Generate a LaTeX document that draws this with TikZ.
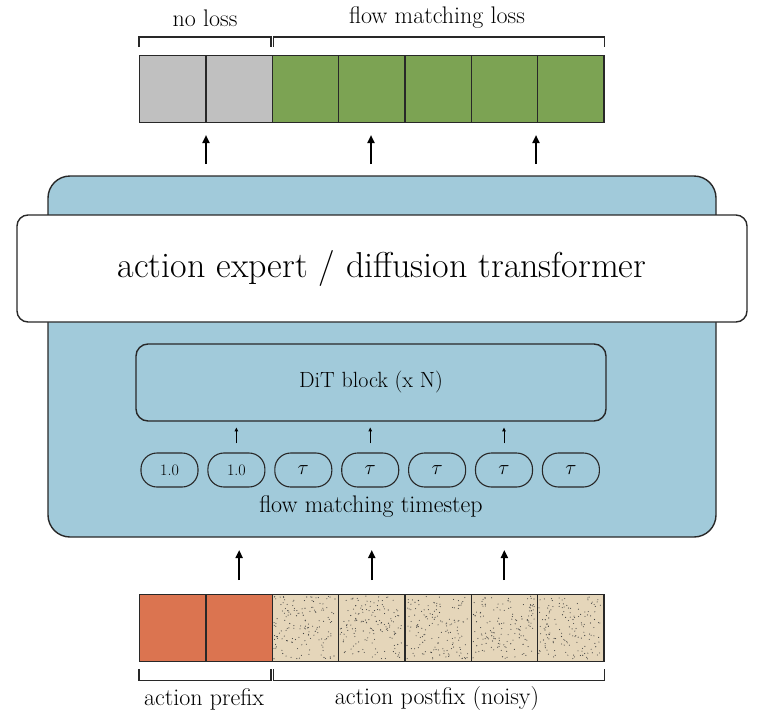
\documentclass[tikz,border=0pt]{standalone}
\usepackage{amsmath}
\usetikzlibrary{arrows.meta}

\definecolor{panelblue}{RGB}{161,202,218}
\definecolor{lossgreen}{RGB}{124,163,83}
\definecolor{nolossgray}{RGB}{192,192,192}
\definecolor{prefixorange}{RGB}{219,116,80}
\definecolor{noisetan}{RGB}{229,214,186}
\definecolor{edgegray}{RGB}{40,40,40}

\tikzset{
  cell/.style={draw=edgegray, line width=1.4pt, minimum width=66.3pt, minimum height=67pt, inner sep=0pt, anchor=north west},
  tstep/.style={draw=edgegray, line width=1.1pt, rounded corners=16pt, minimum width=57pt, minimum height=34pt, inner sep=0pt},
  bigarrow/.style={-{Triangle[length=8pt,width=7pt]}, line width=2.2pt},
  smallarrow/.style={-{Triangle[length=4pt,width=3.5pt]}, line width=1pt},
  brace/.style={line width=1.2pt, edgegray},
  lbl/.style={font=\fontsize{24}{28}\selectfont}
}

\begin{document}
\begin{tikzpicture}[x=1pt,y=-1pt]
            \useasboundingbox (0,0) rectangle (766,726);

            % output tokens
            \foreach \i/\col in {0/nolossgray,1/nolossgray,2/lossgreen,3/lossgreen,4/lossgreen,5/lossgreen,6/lossgreen}
                \node[cell, fill=\col] (out\i) at ({139+\i*66.3},55) {};
            \draw[brace] ([yshift=8pt]out0.north west) -- ([yshift=18pt]out0.north west) -- ([yshift=18pt,xshift=-2pt]out1.north east) -- ([yshift=8pt,xshift=-2pt]out1.north east);
            \draw[brace] ([yshift=8pt,xshift=2pt]out2.north west) -- ([yshift=18pt,xshift=2pt]out2.north west) -- ([yshift=18pt]out6.north east) -- ([yshift=8pt]out6.north east);
            \node[lbl] (noloss) at (205,18) {no loss};
            \node[lbl] (fmloss) at (437,18) {flow matching loss};

            % model
            \node[draw=edgegray, line width=1.4pt, fill=panelblue, rounded corners=22pt, minimum width=668pt, minimum height=361pt] (panel) at (382,356.5) {};
            \node[draw=edgegray, line width=1.4pt, fill=white, rounded corners=11pt, minimum width=730pt, minimum height=107pt, font=\fontsize{36}{42}\selectfont] (expert) at (382,268.5) {action expert / diffusion transformer};
            \node[draw=edgegray, line width=1.4pt, fill=panelblue, rounded corners=12pt, minimum width=470pt, minimum height=77pt, font=\fontsize{22}{26}\selectfont] (dit) at (371,382.5) {DiT block (x N)};

            % timesteps
            \foreach \i/\t in {0/1.0,1/1.0}
                \node[tstep, font=\fontsize{16}{18}\selectfont] (ts\i) at ({169.5+\i*66.9},470) {\t};
            \foreach \i in {2,...,6}
                \node[tstep, font=\fontsize{22}{24}\selectfont] (ts\i) at ({169.5+\i*66.9},470) {$\tau$};
            \node[lbl] (tslabel) at (371,507) {flow matching timestep};
            \foreach \i in {1,3,5}
                \draw[smallarrow] ([yshift=9pt]ts\i.north) -- ([yshift=25pt]ts\i.north);

            % input tokens
            \foreach \i/\col in {0/prefixorange,1/prefixorange,2/noisetan,3/noisetan,4/noisetan,5/noisetan,6/noisetan}
                \node[cell, fill=\col] (in\i) at ({139+\i*66.3},594) {};
            \pgfmathsetseed{11}
            \foreach \i in {2,...,6}
                \foreach \k in {1,...,150}
                    \fill[black!75] ({139+\i*66.3+2+62*rnd},{594+2+63*rnd}) circle (0.55pt);
            \foreach \i in {2,...,6}
                \node[cell] (edge\i) at ({139+\i*66.3},594) {};
            \draw[brace] ([yshift=-7pt]in0.south west) -- ([yshift=-18pt]in0.south west) -- ([yshift=-18pt,xshift=-2pt]in1.south east) -- ([yshift=-7pt,xshift=-2pt]in1.south east);
            \draw[brace] ([yshift=-7pt,xshift=2pt]in2.south west) -- ([yshift=-18pt,xshift=2pt]in2.south west) -- ([yshift=-18pt]in6.south east) -- ([yshift=-7pt]in6.south east);
            \node[lbl] (prefix) at (204,699) {action prefix};
            \node[lbl] (postfix) at (437,699) {action postfix (noisy)};

            % arrows
            \coordinate (up0) at (206,164);
            \coordinate (up1) at (371,164);
            \coordinate (up2) at (536,164);
            \foreach \j in {0,1,2}
                \draw[bigarrow] (up\j) -- ([yshift=29pt]up\j);
            \foreach \i in {1,3,5}
                \draw[bigarrow] ([yshift=14pt]in\i.north) -- ([yshift=44pt]in\i.north);
        \end{tikzpicture}
\end{document}
